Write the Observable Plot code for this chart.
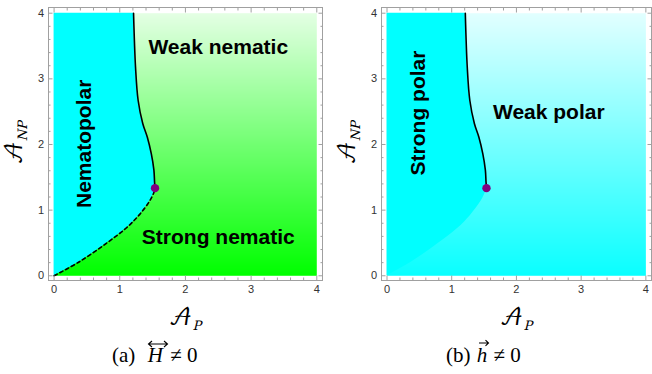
<!DOCTYPE html>
<html>
<head>
<meta charset="utf-8">
<script src="https://cdn.jsdelivr.net/npm/d3@7"></script>
<script src="https://cdn.jsdelivr.net/npm/@observablehq/plot@0.6"></script>
<style>
  html, body { margin: 0; padding: 0; background: #fff; }
  #wrap { position: relative; width: 652px; height: 374px; overflow: hidden; }
  .panel { position: absolute; top: 0; }
  .cap { position: absolute; top: 343px; font-family: "Liberation Serif", "DejaVu Serif", serif; font-size: 21px; line-height: 24px; color: #000; white-space: nowrap; }
  .sym { position: relative; display: inline-block; font-style: italic; }
  .sym svg { position: absolute; left: 0; overflow: visible; }
</style>
</head>
<body>
<div id="wrap">
  <div id="pa" class="panel" style="left:0px"></div>
  <div id="pb" class="panel" style="left:330px"></div>
  <div class="cap" style="left:112px">(a)&nbsp;&nbsp;<span class="sym" style="padding:0 2px">H<svg width="22" height="8" style="top:-3px;left:1px" viewBox="0 0 22 8"><path d="M1.5,4H20.5M5,1L1.5,4L5,7M17,1L20.5,4L17,7" fill="none" stroke="#000" stroke-width="1.1"/></svg></span>&nbsp;&#x2260; 0</div>
  <div class="cap" style="left:446px">(b)&nbsp;<span class="sym" style="padding:0 1px">h<svg width="12" height="8" style="top:-4px;left:2px" viewBox="0 0 12 8"><path d="M1,4H10.5M7.5,1.2L10.5,4L7.5,6.8" fill="none" stroke="#000" stroke-width="1.1"/></svg></span>&nbsp;&#x2260; 0</div>
</div>
<script>
// ---- data ----
const solidX  = [1.21, 1.24, 1.28, 1.35, 1.42, 1.48, 1.52, 1.53, 1.537];
const solidY  = [4.00, 3.18, 2.67, 2.32, 2.11, 1.86, 1.61, 1.43, 1.335];
const dashedX = [0, 0.38, 0.79, 1.09, 1.29, 1.45, 1.52, 1.537];
const dashedY = [0, 0.21, 0.49, 0.72, 0.92, 1.13, 1.27, 1.335];
const criticalX = [1.537];
const criticalY = [1.335];
const majorTicks = [0, 1, 2, 3, 4];
const minorTicks = [0.2, 0.4, 0.6, 0.8, 1.2, 1.4, 1.6, 1.8, 2.2, 2.4, 2.6, 2.8, 3.2, 3.4, 3.6, 3.8];
const labelsA = ["Weak nematic", "Strong nematic", "Nematopolar"];
const labelsAx = [2.5, 2.5, 0.46];
const labelsAy = [3.48, 0.59, 2.01];
const labelsArot = [0, 0, -90];
const labelsB = ["Weak polar", "Strong polar"];
const labelsBx = [2.5, 0.49];
const labelsBy = [2.49, 2.48];
const labelsBrot = [0, -90];

const solid = solidX.map((x, i) => ({x, y: solidY[i]}));
const dashed = dashedX.map((x, i) => ({x, y: dashedY[i]}));
const boundary = d3.sort(dashed.concat(solid.slice(0, -1)), d => d.y);
const critical = criticalX.map((x, i) => ({x, y: criticalY[i]}));
const txtA = labelsA.map((t, i) => ({t, x: labelsAx[i], y: labelsAy[i], r: labelsArot[i]}));
const txtB = labelsB.map((t, i) => ({t, x: labelsBx[i], y: labelsBy[i], r: labelsBrot[i]}));

const FONT = "Liberation Sans, Arial, sans-serif";
const tickColor = "#a0a0a0";

function axes() {
  const blank = () => "";
  const common = {stroke: tickColor, color: "#333", fontSize: 11, fontFamily: FONT, label: null};
  return [
    Plot.axisX({...common, anchor: "bottom", ticks: majorTicks, tickSize: -4.5, tickPadding: 9, tickFormat: d => String(d)}),
    Plot.axisX({...common, anchor: "bottom", ticks: minorTicks, tickSize: -2.5, tickFormat: blank}),
    Plot.axisX({...common, anchor: "top", ticks: majorTicks, tickSize: -4.5, tickFormat: blank}),
    Plot.axisX({...common, anchor: "top", ticks: minorTicks, tickSize: -2.5, tickFormat: blank}),
    Plot.axisY({...common, anchor: "left", ticks: majorTicks, tickSize: -4.5, tickPadding: 9, tickFormat: d => String(d)}),
    Plot.axisY({...common, anchor: "left", ticks: minorTicks, tickSize: -2.5, tickFormat: blank}),
    Plot.axisY({...common, anchor: "right", ticks: majorTicks, tickSize: -4.5, tickFormat: blank}),
    Plot.axisY({...common, anchor: "right", ticks: minorTicks, tickSize: -2.5, tickFormat: blank}),
    Plot.frame({stroke: tickColor, strokeWidth: 1})
  ];
}

function panel({width, marginLeft, marginRight, colors, txt, showDashed}) {
  const marks = [
    Plot.raster({x1: 0, x2: 4, y1: 0, y2: 4, fill: (x, y) => y, interpolate: null}),
    Plot.areaX(boundary, {x1: 0, x2: "x", y: "y", fill: "#00ffff", curve: "catmull-rom"}),
    Plot.line(solid, {x: "x", y: "y", stroke: "#000", strokeWidth: 1.6, curve: "catmull-rom"}),
  ];
  if (showDashed) marks.push(Plot.line(dashed, {x: "x", y: "y", stroke: "#000", strokeWidth: 1.6, strokeDasharray: "3.5,3", curve: "catmull-rom"}));
  marks.push(
    Plot.dot(critical, {x: "x", y: "y", r: 4.2, fill: "#800080", stroke: "none"}),
    Plot.text(txt, {x: "x", y: "y", text: "t", rotate: "r", fontSize: 21, fontWeight: "bold", fontFamily: FONT, fill: "#000"}),
    ...axes()
  );
  const svg = Plot.plot({
    width, height: 340,
    marginLeft, marginRight, marginTop: 7, marginBottom: 60,
    x: {domain: [-0.085, 4.087]},
    y: {domain: [-0.072, 4.087]},
    color: {type: "linear", domain: [0, 4], range: colors, interpolate: "rgb"},
    style: {fontFamily: FONT, background: "transparent"},
    marks
  });
  const s = d3.select(svg);
  const mathFont = "'DejaVu Math TeX Gyre', 'STIX Two Math', 'Noto Sans Math', 'DejaVu Serif', serif";
  const cx = marginLeft + (width - marginLeft - marginRight) / 2;
  const xl = s.append("text").attr("x", cx).attr("y", 325).attr("text-anchor", "middle")
    .style("font-family", mathFont).style("font-size", "22px");
  xl.append("tspan").text("\u{1D49C}");
  xl.append("tspan").attr("dy", 5).style("font-size", "13px").style("font-style", "italic").text("P");
  const yl = s.append("text").attr("transform", `translate(${marginLeft - 26},143) rotate(-90)`).attr("text-anchor", "middle")
    .style("font-family", mathFont).style("font-size", "22px");
  yl.append("tspan").text("\u{1D49C}");
  yl.append("tspan").attr("dy", 5).style("font-size", "13px").style("font-style", "italic").text("NP");
  return svg;
}

document.getElementById("pa").append(panel({width: 330, marginLeft: 48, marginRight: 8, colors: ["#00ff00", "#e4ffe4"], txt: txtA, showDashed: true}));
document.getElementById("pb").append(panel({width: 322, marginLeft: 51, marginRight: 1, colors: ["#0affff", "#e2ffff"], txt: txtB, showDashed: false}));
</script>
</body>
</html>
